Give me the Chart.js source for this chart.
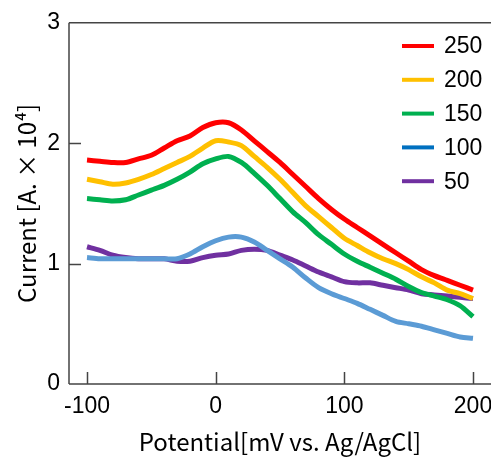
<!DOCTYPE html>
<html>
<head>
<meta charset="utf-8">
<script src="https://cdn.jsdelivr.net/npm/chart.js@4/dist/chart.umd.min.js"></script>
<style>
  html, body { margin: 0; padding: 0; background: #fff; }
  #wrap { width: 491px; height: 463px; position: relative; }
</style>
</head>
<body>
<div id="wrap"><canvas id="c"></canvas></div>
<script>
// Potential (mV vs. Ag/AgCl)
const potentials = [-100,-90,-80,-70,-60,-50,-40,-30,-20,-10,0,10,20,30,40,50,60,70,80,90,100,110,120,130,140,150,160,170,180,190,200];
// Current [A. x 10^4] per series
const series250 = [1.86,1.85,1.84,1.84,1.87,1.90,1.96,2.02,2.06,2.13,2.17,2.17,2.11,2.02,1.93,1.84,1.74,1.64,1.54,1.45,1.37,1.30,1.23,1.16,1.09,1.02,0.95,0.90,0.86,0.82,0.78];
const series200 = [1.70,1.68,1.66,1.67,1.70,1.74,1.79,1.84,1.89,1.96,2.02,2.01,1.98,1.89,1.80,1.70,1.59,1.48,1.39,1.30,1.21,1.15,1.09,1.04,1.00,0.95,0.89,0.84,0.78,0.75,0.71];
const series150 = [1.54,1.53,1.52,1.53,1.57,1.61,1.65,1.70,1.76,1.83,1.87,1.89,1.84,1.75,1.65,1.54,1.43,1.34,1.24,1.16,1.08,1.02,0.97,0.92,0.87,0.81,0.76,0.73,0.70,0.65,0.56];
const series100 = [1.05,1.04,1.04,1.04,1.04,1.04,1.04,1.04,1.08,1.14,1.19,1.22,1.22,1.18,1.11,1.04,0.97,0.88,0.80,0.75,0.71,0.67,0.62,0.57,0.52,0.50,0.48,0.45,0.42,0.39,0.38];
const series50  = [1.14,1.11,1.07,1.05,1.04,1.04,1.04,1.02,1.02,1.05,1.07,1.08,1.11,1.12,1.11,1.07,1.03,0.98,0.93,0.89,0.85,0.84,0.84,0.82,0.80,0.78,0.75,0.74,0.73,0.72,0.71];
const seriesLabels = ['250','200','150','100','50'];
const xTicks = [-100, 0, 100, 200];
const yTicks = [0, 1, 2, 3];

const lineColors   = ['#ff0000','#ffc000','#00b050','#5b9bd5','#7030a0'];
const legendColors = ['#ff0000','#ffc000','#00b050','#0070c0','#7030a0'];
const allSeries = [series250, series200, series150, series100, series50];

const datasets = allSeries.map((s, i) => ({
  label: seriesLabels[i],
  data: potentials.map((p, k) => ({x: p, y: s[k]})),
  borderColor: lineColors[i],
  backgroundColor: lineColors[i],
  borderWidth: 5,
  pointRadius: 0,
  tension: 0.3,
  fill: false
}));

const AXIS_COLOR = '#444';
const TEXT_COLOR = '#000';
const NUM_FONT = '"Liberation Sans", Arial, sans-serif';
const TITLE_FONT = '"Noto Sans CJK JP", sans-serif';

const decorPlugin = {
  id: 'decor',
  afterDraw(chart) {
    const {ctx, chartArea: a, scales: {x, y}} = chart;
    ctx.save();
    ctx.strokeStyle = AXIS_COLOR;
    ctx.lineWidth = 1.5;
    ctx.beginPath();
    ctx.moveTo(a.left, a.top); ctx.lineTo(chart.width, a.top);
    ctx.moveTo(a.left, a.top); ctx.lineTo(a.left, a.bottom);
    ctx.moveTo(a.left, a.bottom); ctx.lineTo(chart.width, a.bottom);
    ctx.stroke();
    ctx.beginPath();
    xTicks.forEach(v => { const px = Math.round(x.getPixelForValue(v)) + 0.5; ctx.moveTo(px, a.bottom); ctx.lineTo(px, a.bottom - 12); });
    yTicks.forEach(v => { if (v === 0 || v === 3) return; const py = Math.round(y.getPixelForValue(v)) + 0.5; ctx.moveTo(a.left, py); ctx.lineTo(a.left + 12, py); });
    ctx.stroke();
    // legend
    ctx.font = '23px ' + NUM_FONT;
    ctx.textBaseline = 'middle';
    ctx.textAlign = 'left';
    chart.data.datasets.forEach((ds, i) => {
      const yy = 46 + i * 33.8;
      ctx.strokeStyle = legendColors[i];
      ctx.lineWidth = 4;
      ctx.beginPath();
      ctx.moveTo(402, yy); ctx.lineTo(434, yy);
      ctx.stroke();
      ctx.fillStyle = TEXT_COLOR;
      ctx.fillText(ds.label, 444, yy + 1);
    });
    ctx.restore();
  }
};

new Chart(document.getElementById('c'), {
  type: 'line',
  data: { datasets },
  options: {
    responsive: true,
    maintainAspectRatio: false,
    animation: false,
    layout: { padding: { top: 18, right: 0, left: 0, bottom: 0 } },
    plugins: { legend: { display: false }, tooltip: { enabled: false } },
    scales: {
      x: {
        type: 'linear',
        min: -114, max: 214,
        afterBuildTicks: s => { s.ticks = xTicks.map(v => ({value: v})); },
        afterFit: s => { s.height = 79; s.paddingRight = 0; s.paddingLeft = 0; },
        grid: { display: false, drawTicks: false },
        border: { display: false },
        ticks: { color: TEXT_COLOR, padding: 9, maxRotation: 0,
          font: { family: NUM_FONT, size: 23 } },
        title: { display: true, text: 'Potential[mV vs. Ag/AgCl]', color: TEXT_COLOR,
          font: { family: TITLE_FONT, size: 24 }, padding: { top: 0, bottom: 7 } }
      },
      y: {
        type: 'linear',
        min: 0, max: 3,
        afterBuildTicks: s => { s.ticks = yTicks.map(v => ({value: v})); },
        afterFit: s => { s.width = 69; },
        grid: { display: false, drawTicks: false },
        border: { display: false },
        ticks: { color: TEXT_COLOR, padding: 9,
          font: { family: NUM_FONT, size: 23 } },
        title: { display: true, text: 'Current [A. × 10⁴]', color: TEXT_COLOR,
          font: { family: TITLE_FONT, size: 24 }, padding: { top: 12, bottom: 0 } }
      }
    }
  },
  plugins: [decorPlugin]
});
</script>
</body>
</html>
